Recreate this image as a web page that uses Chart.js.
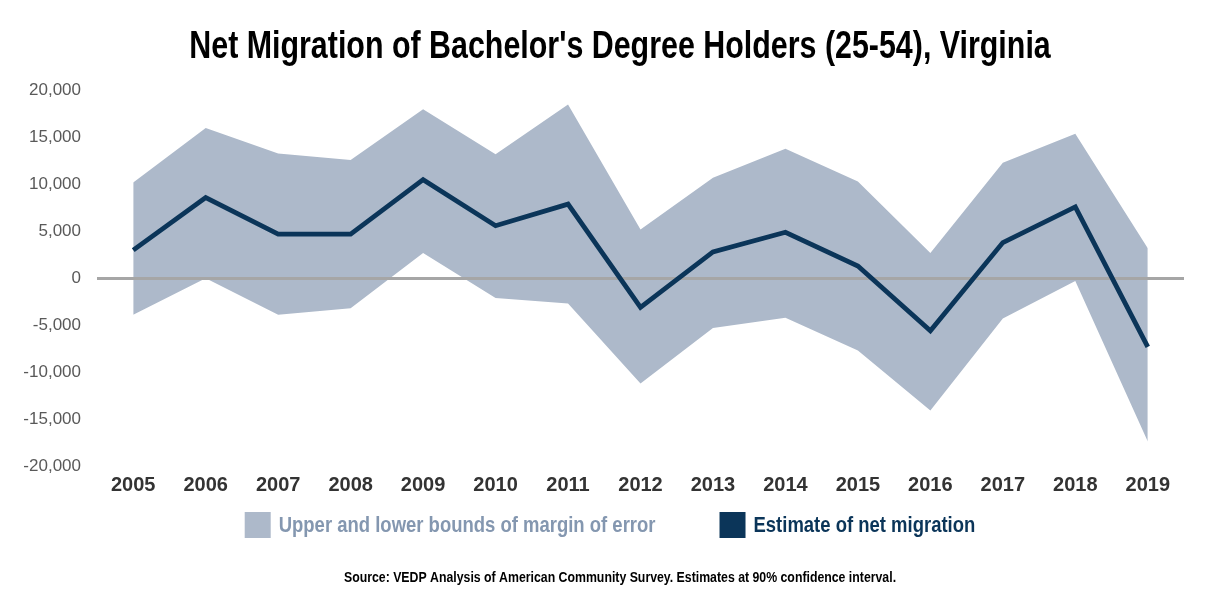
<!DOCTYPE html>
<html>
<head>
<meta charset="utf-8">
<script src="https://cdn.jsdelivr.net/npm/chart.js@4.4.1/dist/chart.umd.min.js"></script>
<style>
  html, body { margin: 0; padding: 0; background: #ffffff; }
  #wrap { width: 1208px; height: 596px; position: relative; }
</style>
</head>
<body>
<div id="wrap"><canvas id="c"></canvas></div>
<script>
// ---- Data ----
const years = ['2005','2006','2007','2008','2009','2010','2011','2012','2013','2014','2015','2016','2017','2018','2019'];
const estimate   = [3000, 8600, 4700, 4700, 10500, 5600, 7900, -3100, 2800, 4900, 1300, -5600, 3800, 7600, -7300];
const upperBound = [10200, 16000, 13300, 12600, 18000, 13200, 18500, 5200, 10700, 13800, 10300, 2700, 12300, 15400, 3200];
const lowerBound = [-3900, 0, -3900, -3200, 2700, -2100, -2700, -11200, -5300, -4200, -7700, -14100, -4300, -300, -17400];
const yTickValues = [-20000, -15000, -10000, -5000, 0, 5000, 10000, 15000, 20000];
const titleText = "Net Migration of Bachelor's Degree Holders (25-54), Virginia";
const sourceText = "Source: VEDP Analysis of American Community Survey. Estimates at 90% confidence interval.";
const legendLabels = ['Upper and lower bounds of margin of error', 'Estimate of net migration'];

// ---- Styles ----
const bandColor = '#ADB9CA';
const lineColor = '#0B3559';
const bandTextColor = '#8497B0';
const sans = '"Liberation Sans", Arial, sans-serif';

// centre title/subtitle like the reference and draw them horizontally condensed
const condensedText = {
  id: 'condensedText',
  afterLayout(chart, args, opts) {
    chart.boxes.forEach(b => {
      if (!b.options) return;
      const isTitle = b.options.text === titleText;
      const isSource = b.options.text === sourceText;
      if (!isTitle && !isSource) return;
      const shift = opts.center - (b.left + b.right) / 2;
      b.left += shift;
      b.right += shift;
      if (!b._condensed) {
        const sx = isTitle ? opts.titleScale : opts.sourceScale;
        const orig = b.draw;
        b.draw = function (...a) {
          const ctx = this.ctx;
          const cx = (this.left + this.right) / 2;
          ctx.save();
          ctx.translate(cx, 0);
          ctx.scale(sx, 1);
          ctx.translate(-cx, 0);
          orig.apply(this, a);
          ctx.restore();
        };
        b._condensed = true;
      }
    });
  }
};

const customLegend = {
  id: 'customLegend',
  afterDraw(chart, args, opts) {
    const ctx = chart.ctx;
    ctx.save();
    ctx.font = 'bold ' + opts.fontSize + 'px ' + sans;
    ctx.textBaseline = 'middle';
    ctx.textAlign = 'left';
    const sx = opts.scaleX;
    const box = 26, gapText = 8, gapItem = 64;
    const items = opts.items;
    let total = 0;
    items.forEach((it, i) => {
      total += box + gapText + ctx.measureText(it.text).width * sx + (i < items.length - 1 ? gapItem : 0);
    });
    let x = opts.centerX - total / 2;
    const yc = opts.centerY;
    items.forEach(it => {
      ctx.fillStyle = it.boxColor;
      ctx.fillRect(x, yc - box / 2, box, box);
      x += box + gapText;
      ctx.fillStyle = it.textColor;
      ctx.save();
      ctx.translate(x, 0);
      ctx.scale(sx, 1);
      ctx.fillText(it.text, 0, yc + 1);
      ctx.restore();
      x += ctx.measureText(it.text).width * sx + gapItem;
    });
    ctx.restore();
  }
};

new Chart(document.getElementById('c'), {
  type: 'line',
  data: {
    labels: years,
    datasets: [
      {
        label: legendLabels[1],
        data: estimate,
        borderColor: lineColor,
        backgroundColor: lineColor,
        borderWidth: 4.8,
        borderJoinStyle: 'miter',
        pointRadius: 0,
        fill: false,
        tension: 0
      },
      {
        label: legendLabels[0],
        data: upperBound,
        borderColor: 'rgba(0,0,0,0)',
        borderWidth: 0,
        backgroundColor: bandColor,
        pointRadius: 0,
        fill: '+1',
        tension: 0
      },
      {
        label: 'Lower bound',
        data: lowerBound,
        borderColor: 'rgba(0,0,0,0)',
        borderWidth: 0,
        backgroundColor: bandColor,
        pointRadius: 0,
        fill: false,
        tension: 0
      }
    ]
  },
  options: {
    responsive: true,
    maintainAspectRatio: false,
    animation: false,
    events: [],
    layout: { padding: { left: 0, right: 24, top: 0, bottom: 0 } },
    scales: {
      x: {
        offset: true,
        grid: { display: false, drawTicks: false },
        border: { display: false },
        ticks: {
          padding: 7,
          color: '#333333',
          font: { family: sans, size: 20, weight: 'bold' },
          maxRotation: 0,
          autoSkip: false
        }
      },
      y: {
        min: -20000,
        max: 20000,
        afterBuildTicks(scale) { scale.ticks = yTickValues.map(v => ({ value: v })); },
        afterFit(scale) { scale.width = 97; },
        grid: {
          drawTicks: false,
          color: (c) => (c.tick && c.tick.value === 0) ? '#A6A6A6' : 'rgba(0,0,0,0)',
          lineWidth: (c) => (c.tick && c.tick.value === 0) ? 3 : 0
        },
        border: { display: false },
        ticks: {
          padding: 16,
          color: '#595959',
          font: { family: sans, size: 17 },
          callback: (v) => Number(v).toLocaleString('en-US')
        }
      }
    },
    plugins: {
      filler: { drawTime: 'beforeDraw' },
      legend: { display: false },
      tooltip: { enabled: false },
      title: {
        display: true,
        text: titleText,
        color: '#000000',
        font: { family: sans, size: 38, weight: 'bold' },
        padding: { top: 25, bottom: 19.9 }
      },
      subtitle: {
        display: true,
        position: 'bottom',
        text: sourceText,
        color: '#000000',
        font: { family: sans, size: 15, weight: 'bold' },
        padding: { top: 65, bottom: 9 }
      },
      condensedText: { center: 620, titleScale: 0.80, sourceScale: 0.82 },
      customLegend: {
        centerX: 610,
        centerY: 525,
        fontSize: 22,
        scaleX: 0.84,
        items: [
          { text: legendLabels[0], boxColor: bandColor, textColor: bandTextColor },
          { text: legendLabels[1], boxColor: lineColor, textColor: lineColor }
        ]
      }
    }
  },
  plugins: [condensedText, customLegend]
});
</script>
</body>
</html>
